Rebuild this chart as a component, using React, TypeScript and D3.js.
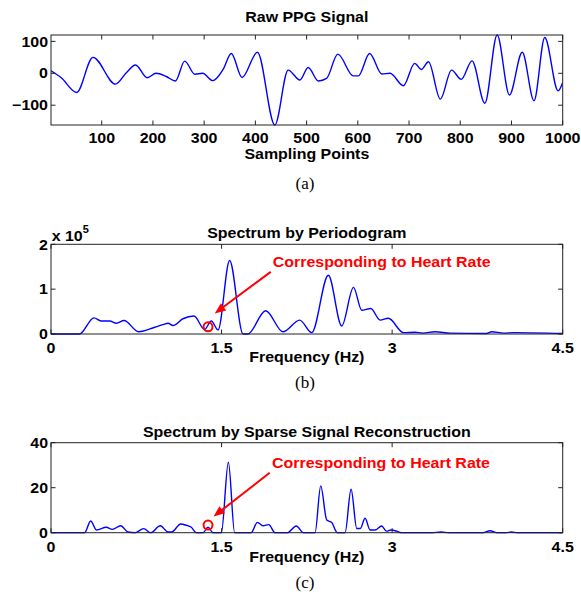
import React from 'react';
import * as d3 from 'd3';

// ---------------- DATA ----------------
// (a) Raw PPG signal: key samples (sampling index, amplitude)
const rawIdx = [1, 21, 51, 83, 127, 148, 166, 189, 206, 226, 244, 262, 282, 297, 317, 337, 353, 374, 404, 438, 464, 487, 503, 523, 539, 561, 591, 601, 623, 647, 663, 689, 711, 724, 738, 761, 783, 802, 823, 848, 872, 896, 921, 944, 965, 991, 1000];
const rawVal = [8, -14, -60, 50, -34, 2, 26, -14, 0, -10, -24, 38, -3, 0, -23, 12, 62, -13, 66, -162, 10, -21, 18, -24, -16, 60, -8, -8, 62, -2, 0, -39, 31, 12, 36, -81, 10, -19, 39, -94, 120, -68, 66, -86, 112, -55, -29];
const rawXTicks = [100, 200, 300, 400, 500, 600, 700, 800, 900, 1000];
const rawYTicks = [-100, 0, 100];

// (b) Periodogram spectrum (frequency Hz, power x 10^5)
const periodF = [0, 0.25, 0.378, 0.44, 0.516, 0.575, 0.642, 0.771, 0.912, 0.985, 1.03, 1.073, 1.16, 1.258, 1.35, 1.41, 1.469, 1.571, 1.689, 1.73, 1.888, 2.04, 2.187, 2.293, 2.439, 2.557, 2.66, 2.733, 2.812, 2.894, 2.967, 3.1, 3.2, 3.27, 3.377, 3.51, 3.83, 3.876, 3.98, 4.07, 4.5];
const periodV = [0, 0, 0.36, 0.29, 0.29, 0.24, 0.30, 0.05, 0.15, 0.21, 0.24, 0.19, 0.34, 0.40, 0.10, 0.29, 0.09, 1.64, 0, 0, 0.52, 0.05, 0.31, 0.03, 1.31, 0.18, 1.04, 0.53, 0.57, 0.31, 0.35, 0.03, 0.04, 0.02, 0.05, 0.02, 0.01, 0.05, 0.02, 0.03, 0.01];
const periodYTicks = [0, 1, 2];

// (c) Sparse signal reconstruction spectrum
const sparseF = [0, 0.296, 0.349, 0.40, 0.486, 0.54, 0.613, 0.677, 0.74, 0.815, 0.877, 0.961, 1.03, 1.06, 1.141, 1.19, 1.234, 1.278, 1.337, 1.381, 1.425, 1.498, 1.56, 1.615, 1.76, 1.815, 1.864, 1.915, 1.97, 2.08, 2.157, 2.22, 2.322, 2.372, 2.425, 2.469, 2.518, 2.586, 2.639, 2.689, 2.72, 2.762, 2.806, 2.85, 2.908, 2.95, 2.99, 3.04, 3.08, 3.35, 3.43, 3.5, 3.8, 3.861, 3.92, 4.0, 4.05, 4.1, 4.5];
const sparseV = [0, 0, 5.2, 1.2, 2.4, 1.5, 3.1, 0.3, 0, 1.8, 0, 3.1, 0.3, 0.3, 3.9, 3.3, 2.4, 0, 0, 2.4, 0, 0, 31.3, 0, 0, 4.6, 3.1, 3.6, 0, 0, 3, 0, 0, 20.8, 5.6, 4.5, 0, 0, 19.3, 1.9, 1.9, 6.4, 1.2, 1.2, 3, 0.7, 1.2, 0.7, 0, 0, 0.3, 0, 0, 0.9, 0, 0, 0.3, 0, 0];
const sparseYTicks = [0, 20, 40];

const freqTicks = [0, 1.5, 3, 4.5];
const heartF = 1.381;
const periodHeartV = 0.16;
const sparseHeartV = 3.4;

const annotationText = 'Corresponding to Heart Rate';

// ---------------- LAYOUT ----------------
const W = 581;
const H = 597;
const L = 51;
const R = 562.7;
const FONT = '"Liberation Sans", Arial, Helvetica, sans-serif';
const SERIF = '"Liberation Serif", "Times New Roman", serif';
const SX = 1.1;
const FS = 14.5;
const TICK = 4.5;
const BLUE = '#0000ff';
const RED = '#ff0000';

type TProps = { x: number; y: number; anchor?: string; size?: number; fill?: string; weight?: string; family?: string; sx?: number; children: React.ReactNode };
function T({ x, y, anchor = 'middle', size = FS, fill = '#000', weight = 'bold', family = FONT, sx = SX, children }: TProps) {
  return (
    <text transform={`translate(${x},${y}) scale(${sx},1)`} textAnchor={anchor as any} fontSize={size} fontWeight={weight} fontFamily={family} fill={fill}>
      {children}
    </text>
  );
}

const fmtNum = (v: number) => (v < 0 ? '\u2212' + Math.abs(v) : String(v));

type PanelProps = {
  id: string;
  top: number;
  bottom: number;
  xDomain: [number, number];
  yDomain: [number, number];
  xs: number[];
  ys: number[];
  xTicks: number[];
  yTicks: number[];
  xTickBase: number;
  title: string;
  titleBase: number;
  xLabel: string;
  xLabelBase: number;
  curve: any;
  annotation?: { x: number; y: number; tip: [number, number]; tail: [number, number]; text: [number, number] };
};

function Panel(p: PanelProps) {
  const x = d3.scaleLinear().domain(p.xDomain).range([L, R]);
  const y = d3.scaleLinear().domain(p.yDomain).range([p.bottom, p.top]);
  const line = d3
    .line<number>()
    .x((_, i) => x(p.xs[i]))
    .y((d) => y(d))
    .curve(p.curve);
  const cx = (L + R) / 2;
  let ann: React.ReactNode = null;
  if (p.annotation) {
    const a = p.annotation;
    const px = x(a.x);
    const py = y(a.y);
    const tip: [number, number] = [px + a.tip[0], py + a.tip[1]];
    const tail: [number, number] = [px + a.tail[0], py + a.tail[1]];
    const dx = tip[0] - tail[0];
    const dy = tip[1] - tail[1];
    const len = Math.hypot(dx, dy);
    const ux = dx / len;
    const uy = dy / len;
    const hl = 11;
    const hw = 4.5;
    const base: [number, number] = [tip[0] - ux * hl, tip[1] - uy * hl];
    const head = [
      tip,
      [base[0] - uy * hw, base[1] + ux * hw],
      [base[0] + uy * hw, base[1] - ux * hw],
    ];
    ann = (
      <g>
        <circle cx={px} cy={py} r={4.5} fill="none" stroke={RED} strokeWidth={2} />
        <line x1={tail[0]} y1={tail[1]} x2={base[0] + ux * 2} y2={base[1] + uy * 2} stroke={RED} strokeWidth={2} />
        <polygon points={head.map((q) => q.join(',')).join(' ')} fill={RED} />
        <T x={px + a.text[0]} y={py + a.text[1]} anchor="start" fill={RED}>
          {annotationText}
        </T>
      </g>
    );
  }
  return (
    <g>
      <defs>
        <clipPath id={`clip-${p.id}`}>
          <rect x={L} y={p.top - 1} width={R - L} height={p.bottom - p.top + 2} />
        </clipPath>
      </defs>
      <path d={line(p.ys) || ''} fill="none" stroke={BLUE} strokeWidth={1.4} strokeLinejoin="round" clipPath={`url(#clip-${p.id})`} />
      <rect x={L} y={p.top} width={R - L} height={p.bottom - p.top} fill="none" stroke="#222" strokeWidth={1} />
      {p.xTicks.map((t) => (
        <g key={`x${t}`}>
          <line x1={x(t)} x2={x(t)} y1={p.bottom} y2={p.bottom - TICK} stroke="#222" />
          <line x1={x(t)} x2={x(t)} y1={p.top} y2={p.top + TICK} stroke="#222" />
          <T x={x(t)} y={p.xTickBase}>{fmtNum(t)}</T>
        </g>
      ))}
      {p.yTicks.map((t) => (
        <g key={`y${t}`}>
          <line x1={L} x2={L + TICK} y1={y(t)} y2={y(t)} stroke="#222" />
          <line x1={R} x2={R - TICK} y1={y(t)} y2={y(t)} stroke="#222" />
          <T x={L - 3} y={y(t) + 5.2} anchor="end">{fmtNum(t)}</T>
        </g>
      ))}
      <T x={cx} y={p.titleBase}>{p.title}</T>
      <T x={cx} y={p.xLabelBase}>{p.xLabel}</T>
      {ann}
    </g>
  );
}

export default function App() {
  const rawExtent = d3.extent(rawVal) as [number, number];
  return (
    <svg width={W} height={H} style={{ position: 'absolute', left: 0, top: 0, background: '#fff' }}>
      <rect width={W} height={H} fill="#fff" />
      <Panel
        id="a"
        top={35}
        bottom={125}
        xDomain={[1, 1000]}
        yDomain={rawExtent}
        xs={rawIdx}
        ys={rawVal}
        xTicks={rawXTicks}
        yTicks={rawYTicks}
        xTickBase={142.6}
        title="Raw PPG Signal"
        titleBase={22.3}
        xLabel="Sampling Points"
        xLabelBase={159.4}
        curve={d3.curveMonotoneX}
      />
      <T x={305} y={189} family={SERIF} weight="normal" size={17} sx={1}>(a)</T>

      <Panel
        id="b"
        top={244.3}
        bottom={334}
        xDomain={[0, 4.5]}
        yDomain={[0, 2]}
        xs={periodF}
        ys={periodV}
        xTicks={freqTicks}
        yTicks={periodYTicks}
        xTickBase={353.3}
        title="Spectrum by Periodogram"
        titleBase={238.3}
        xLabel="Frequency (Hz)"
        xLabelBase={361.5}
        curve={d3.curveMonotoneX}
        annotation={{ x: heartF, y: periodHeartV, tip: [6.7, -13.4], tail: [62.7, -55], text: [64.7, -59.4] }}
      />
      <T x={51.7} y={240.5} anchor="start">x 10</T>
      <T x={82.7} y={233.3} anchor="start" size={10}>5</T>
      <T x={305} y={388} family={SERIF} weight="normal" size={17} sx={1}>(b)</T>

      <Panel
        id="c"
        top={442.7}
        bottom={532.7}
        xDomain={[0, 4.5]}
        yDomain={[0, 40]}
        xs={sparseF}
        ys={sparseV}
        xTicks={freqTicks}
        yTicks={sparseYTicks}
        xTickBase={551.7}
        title="Spectrum by Sparse Signal Reconstruction"
        titleBase={437.3}
        xLabel="Frequency (Hz)"
        xLabelBase={561.5}
        curve={d3.curveMonotoneX}
        annotation={{ x: heartF, y: sparseHeartV, tip: [5.5, -8.5], tail: [61.7, -52.3], text: [64, -56.7] }}
      />
      <T x={305} y={588} family={SERIF} weight="normal" size={17} sx={1}>(c)</T>
    </svg>
  );
}
